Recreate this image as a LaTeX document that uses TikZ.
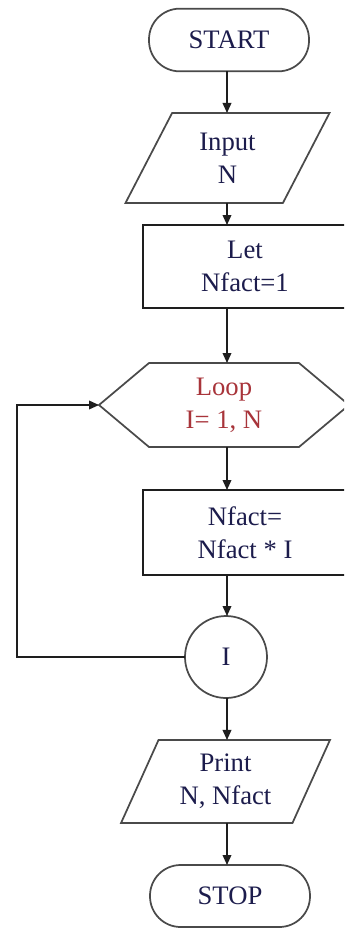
\documentclass[tikz,border=0pt]{standalone}
\usepackage{fontspec}
\setmainfont{Liberation Serif}
\usetikzlibrary{shapes.geometric,arrows.meta}
\definecolor{ink}{HTML}{1C1C4C}
\definecolor{loopred}{HTML}{A8343A}
\definecolor{edge}{HTML}{1E1E1E}
\definecolor{soft}{HTML}{4A4A4A}
\begin{document}
\begin{tikzpicture}[x=0.75pt,y=-0.75pt,
  font=\fontsize{20}{25}\selectfont, text=ink,
  base/.style={outer sep=0pt, inner sep=0pt, align=center, line width=1.3pt},
  terminal/.style={base, draw=soft, rounded corners=23pt, minimum width=120pt, minimum height=47pt},
  io/.style={base, draw=soft, trapezium, trapezium left angle=65, trapezium right angle=115, trapezium stretches=true},
  process/.style={base, draw=edge, minimum width=153pt},
  connector/.style={base, draw=soft, circle, minimum size=61.5pt},
  hexline/.style={draw=soft, line width=1.3pt, line join=miter},
  flow/.style={draw=edge, line width=1.1pt, -{Triangle[length=7.5pt,width=6.5pt]}}
]
\useasboundingbox (0,0) rectangle (344,929);
\fill[white] (0,0) rectangle (344,929);
\clip (0,0) rectangle (344,929);

% main column of connectors
\coordinate (col) at (227,0);
\coordinate (back) at (17,657);

\node[terminal] (start) at (229,40) {START};
\node[io, minimum width=153.75pt, minimum height=67.5pt] (input) at (227.5,158) {Input\\N};
\node[process, minimum height=62.25pt] (let) at (245,266.5) {Let\\Nfact=1};
\node[base, minimum width=187.5pt, minimum height=63pt, text=loopred] (loop) at (224,405) {Loop\\I= 1, N};
\draw[hexline] (loop.west) -- ([xshift=37.5pt]loop.north west) -- ([xshift=-37.5pt]loop.north east)
  -- (loop.east) -- ([xshift=-37.5pt]loop.south east) -- ([xshift=37.5pt]loop.south west) -- cycle;
\node[process, minimum height=63.75pt] (nfact) at (245,532.5) {Nfact=\\Nfact * I};
\node[connector] (iter) at (226,657) {I};
\node[io, minimum width=156.75pt, minimum height=62.25pt] (print) at (225.5,781.5) {Print\\N, Nfact};
\node[terminal, minimum height=46.5pt] (stop) at (230,896) {STOP};

\draw[flow] (start.south -| col) -- (input.north -| col);
\draw[flow] (input.south -| col) -- (let.north -| col);
\draw[flow] (let.south -| col) -- (loop.north -| col);
\draw[flow] (loop.south -| col) -- (nfact.north -| col);
\draw[flow] (nfact.south -| col) -- (iter.north -| col);
\draw[flow] (iter.south -| col) -- (print.north -| col);
\draw[flow] (print.south -| col) -- (stop.north -| col);
\draw[flow] (iter.west) -| (back) |- (loop.west);
\end{tikzpicture}
\end{document}
